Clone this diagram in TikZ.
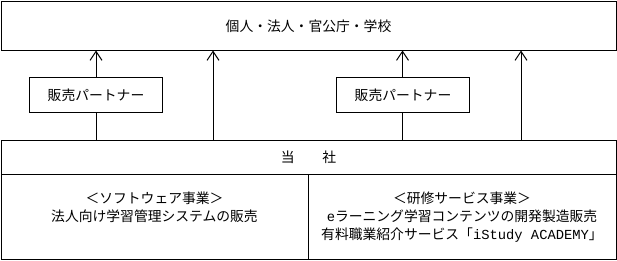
\documentclass[tikz,border=0pt]{standalone}
\usepackage{fontspec}
\setmainfont{Noto Sans CJK JP}
\newfontfamily\latinmono{Liberation Mono}
\usetikzlibrary{arrows.meta}
\tikzset{
  box/.style={draw, line width=1pt, inner sep=0pt, anchor=north west},
  lbl/.style={font=\fontsize{13.8}{18}\selectfont, align=center, inner sep=0pt},
  arr/.style={line width=1pt, -{Straight Barb[length=9pt,width=12pt,line width=1pt]}},
  ln/.style={line width=1pt}
}
\begin{document}
\begin{tikzpicture}[x=1pt,y=-1pt]
\useasboundingbox (0,0) rectangle (617,260);
% top box
\node[box, minimum width=615pt, minimum height=49pt] (top) at (1,1) {};
\node[lbl] (toptxt) at (308.5,26) {個人・法人・官公庁・学校};
% partner boxes
\node[box, minimum width=133pt, minimum height=35pt] (p1) at (29,77) {};
\node[lbl] (p1t) at (p1.center) {販売パートナー};
\node[box, minimum width=133pt, minimum height=35pt] (p2) at (336,77) {};
\node[lbl] (p2t) at (p2.center) {販売パートナー};
% company box
\node[box, minimum width=615pt, minimum height=34pt] (co) at (1,140) {};
\node[lbl] (cot) at (308.5,157) {当　　社};
% lower boxes
\node[box, minimum width=307pt, minimum height=85pt] (lb) at (1,174) {};
\node[box, minimum width=308pt, minimum height=85pt] (rb) at (308,174) {};
\node[lbl, anchor=north] (lbt) at (154.5,192) {＜ソフトウェア事業＞\\法人向け学習管理システムの販売};
\node[lbl, anchor=north] (rbt) at (462,192) {＜研修サービス事業＞\\{\latinmono e}ラーニング学習コンテンツの開発製造販売\\有料職業紹介サービス「{\latinmono iStudy ACADEMY}」};
% coordinates
\coordinate (a1b) at (96,140); \coordinate (a1t) at (96,50.5);
\coordinate (a2b) at (213,140); \coordinate (a2t) at (213,50.5);
\coordinate (a3b) at (402.5,140); \coordinate (a3t) at (402.5,50.5);
\coordinate (a4b) at (521,140); \coordinate (a4t) at (521,50.5);
% connectors
\draw[ln] (a1b) -- (a1b |- p1.south);
\draw[arr] (a1b |- p1.north) -- (a1t);
\draw[arr] (a2b) -- (a2t);
\draw[ln] (a3b) -- (a3b |- p2.south);
\draw[arr] (a3b |- p2.north) -- (a3t);
\draw[arr] (a4b) -- (a4t);
\end{tikzpicture}
\end{document}
